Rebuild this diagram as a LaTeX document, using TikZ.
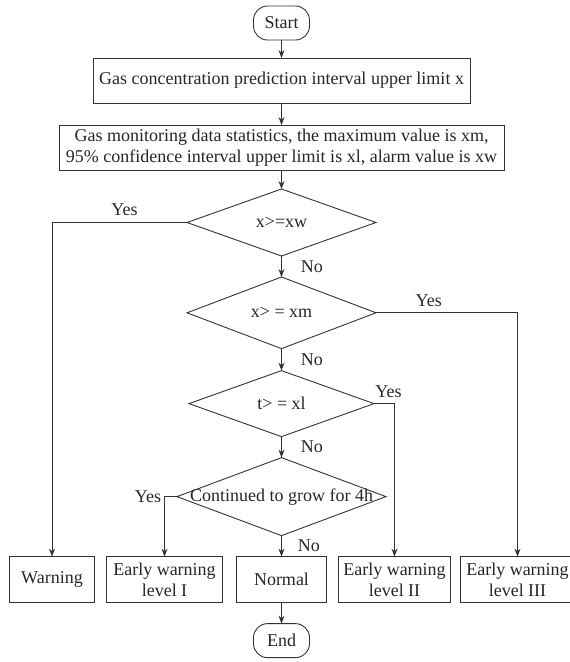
\documentclass[tikz,border=0pt]{standalone}
\usepackage{fontspec}
\setmainfont{Liberation Serif}
\usepackage{tikz}
\usetikzlibrary{shapes.geometric, positioning, arrows.meta}
\tikzstyle{startstop} = [rectangle, rounded corners=14pt, minimum width=56pt, minimum height=34pt, inner sep=2pt, text centered, draw=black!80]
\tikzstyle{process} = [rectangle, minimum height=45pt, inner sep=3pt, align=center, draw=black!80]
\tikzstyle{decision} = [diamond, minimum width=189pt, minimum height=67pt, inner sep=0pt, text centered, draw=black!80]
\tikzstyle{result} = [rectangle, minimum height=46pt, inner xsep=4pt, inner ysep=2pt, align=center, draw=black!80]
\tikzstyle{arrow} = [draw=black!80, -{Stealth[length=8pt, width=6pt]}]

\begin{document}
\begin{tikzpicture}[x=1pt, y=-1pt, line width=0.9pt, outer sep=0pt, font=\fontsize{18pt}{21pt}\selectfont, text=black!85]
	\useasboundingbox (0,0) rectangle (570,662);
	\node (Start)[startstop] at (281.5,23) {Start};
	\node (Predict)[process, minimum width=377pt, below = 18pt of Start]{Gas concentration prediction interval upper limit x};
	\node (Stats)[process, minimum width=445pt, below = 22pt of Predict]{Gas monitoring data statistics, the maximum value is xm,\\95\% confidence interval upper limit is xl, alarm value is xw};
	\node (Alarm)[decision, below = 19pt of Stats]{x>=xw};
	\node (Max)[decision, below = 21pt of Alarm]{x> = xm};
	\node (Upper)[decision, minimum width=185pt, minimum height=66pt, below = 22pt of Max]{t> = xl};
	\node (Grow)[decision, minimum width=209pt, minimum height=78pt, below = 21pt of Upper]{\makebox[0pt]{Continued to grow for 4h}};
	\node (Normal)[result, minimum width=90pt, below = 21pt of Grow]{Normal};
	\node (LevelI)[result, minimum width=116pt, left = 14pt of Normal]{Early warning\\level I};
	\node (Warning)[result, minimum width=85pt, left = 12pt of LevelI]{Warning};
	\node (LevelII)[result, minimum width=112pt, right = 12pt of Normal]{Early warning\\level II};
	\node (LevelIII)[result, minimum width=114pt, right = 10pt of LevelII]{Early warning\\level III};
	\node (End)[startstop, below = 21pt of Normal]{End};

	\draw [arrow] (Start) -- (Predict);
	\draw [arrow] (Predict) -- (Stats);
	\draw [arrow] (Stats) -- (Alarm);
	\draw [arrow] (Alarm) -- node[right, xshift=16pt]{No} (Max);
	\draw [arrow] (Max) -- node[right, xshift=16pt]{No} (Upper);
	\draw [arrow] (Upper) -- node[right, xshift=16pt]{No} (Grow);
	\draw [arrow] (Grow) -- node[right, xshift=13pt]{No} (Normal);
	\draw [arrow] (Normal) -- (End);
	\draw [arrow] (Alarm.west) -| node[pos=0.25, above, xshift=5pt, yshift=3pt]{Yes} (Warning);
	\draw [arrow] (Max.east) -| node[pos=0.25, above, xshift=-18pt, yshift=3pt]{Yes} (LevelIII);
	\draw [arrow] (Upper.east) -| node[pos=0.5, above, xshift=-6pt, yshift=3pt]{Yes} (LevelII);
	\draw [arrow] (Grow.west) -| node[pos=0.5, left]{Yes} (LevelI);
\end{tikzpicture}
\end{document}
